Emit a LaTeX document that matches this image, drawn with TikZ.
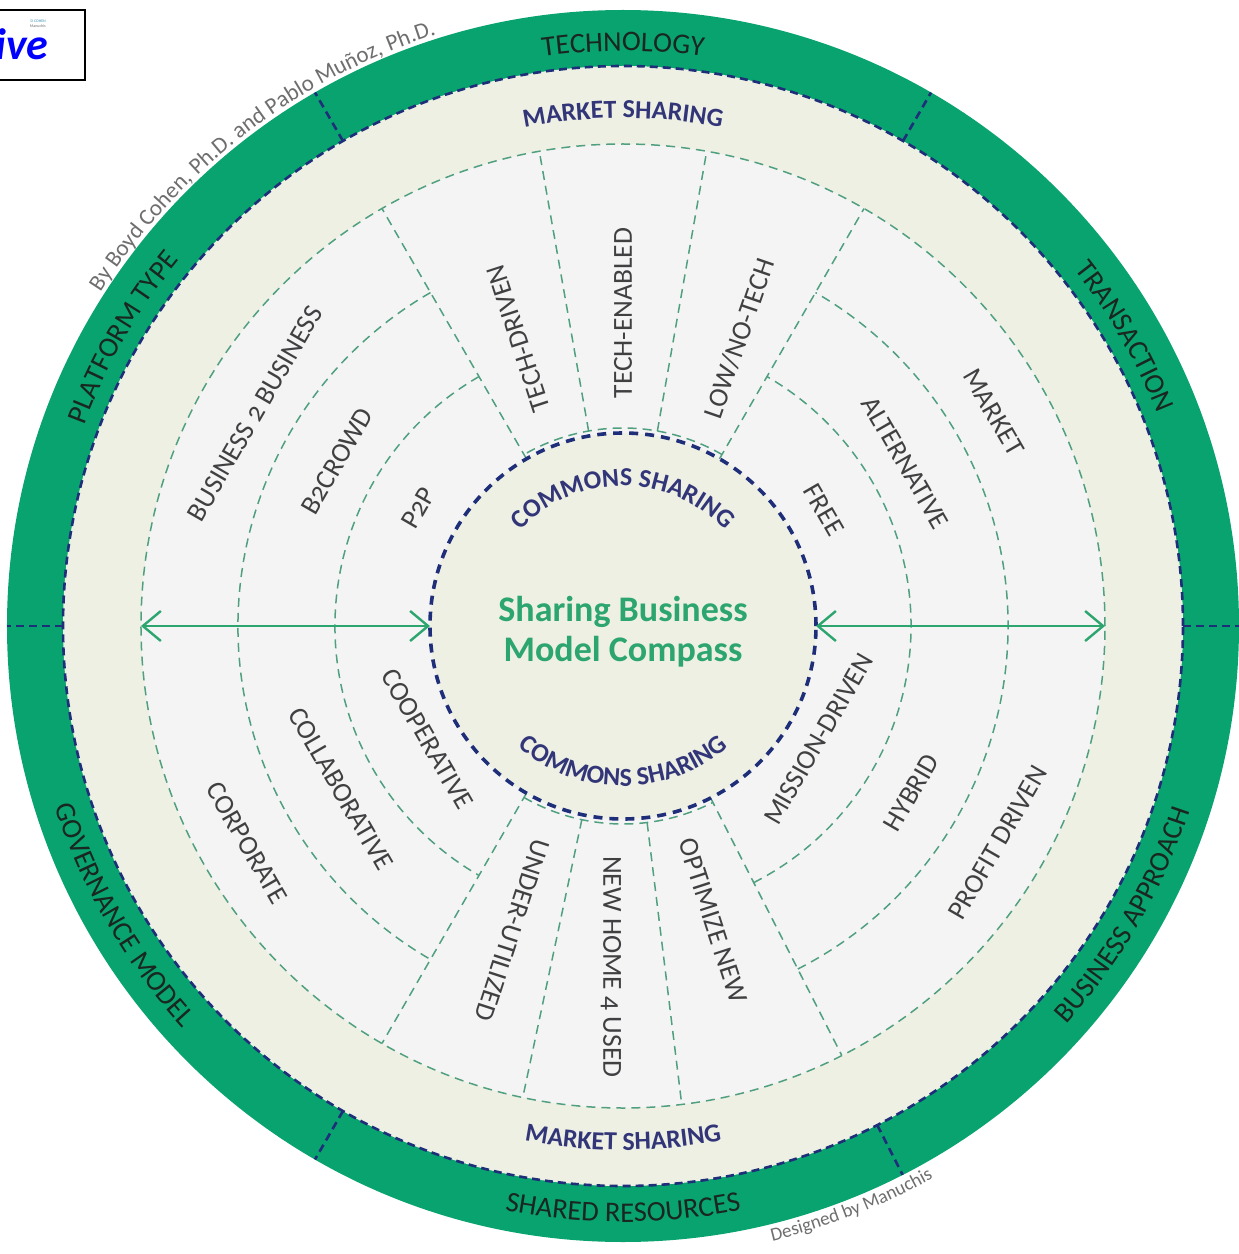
\documentclass[tikz,border=0pt]{standalone}
\usepackage{fontspec}
\setmainfont{Carlito}[Numbers=OldStyle]
\usetikzlibrary{arrows.meta,decorations.text}
\definecolor{ringgreen}{RGB}{8,163,110}
\definecolor{titlegreen}{RGB}{44,165,110}
\definecolor{dashgreen}{RGB}{80,160,128}
\definecolor{navy}{RGB}{30,46,120}
\definecolor{navytext}{RGB}{50,54,120}
\definecolor{beige}{RGB}{238,240,228}
\definecolor{paleg}{RGB}{244,244,245}
\definecolor{itemgray}{RGB}{64,64,66}
\definecolor{ringtext}{RGB}{26,38,32}
\definecolor{credit}{RGB}{110,110,112}
\newcommand\ringfont{\fontsize{28.5}{31}\selectfont}
\newcommand\sharefont{\fontsize{26}{28}\selectfont\bfseries}
\newcommand\commonsfont{\fontsize{26}{28}\selectfont\bfseries}
\newcommand\creditfont{\fontsize{23}{25}\selectfont}
\newcommand\designfont{\fontsize{19}{21}\selectfont}
\tikzset{
	greendash/.style={draw=dashgreen,line width=1.5pt,dash pattern=on 9pt off 6pt},
	navydash/.style={draw=navy,line width=2.6pt,dash pattern=on 8pt off 5pt},
	itemlabel/.style={text=itemgray,font=\fontsize{27.5}{30}\selectfont},
	spanarrow/.style={<->,titlegreen,line width=2.4pt},
	curvedlabel/.style 2 args={decorate,decoration={text along path,text align=center,text color=#1,text={#2}}}
}
\begin{document}
\begin{tikzpicture}[x=1pt,y=1pt,>={Straight Barb[length=18pt,width=30pt]}]
	\useasboundingbox (-623,-628) rectangle (616,626);
	\fill[white] (-623,-628) rectangle (616,626);
	\fill[ringgreen] (0,0) circle[radius=616];
	\fill[beige] (0,0) circle[radius=560];
	\fill[paleg] (0,0) circle[radius=482];
	\fill[beige] (0,0) circle[radius=193];
	\draw[greendash] (0,0) circle[radius=482];
	\foreach \r in {288,385}{
		\draw[greendash] (120:\r) arc[start angle=120,end angle=240,radius=\r];
		\draw[greendash] (-63:\r) arc[start angle=-63,end angle=60,radius=\r];
	}
	\draw[greendash] (60:198) arc[start angle=60,end angle=120,radius=198];
	\draw[greendash] (240:198) arc[start angle=240,end angle=297,radius=198];
	\foreach \a in {60,120,240,297}
		\draw[greendash] (\a:193)--(\a:482);
	\foreach \a in {80,100,258,277}
		\draw[greendash] (\a:198)--(\a:482);
	\draw[navydash] (0,0) circle[radius=560];
	\draw[navydash,line width=3.6pt,dash pattern=on 9pt off 7pt] (0,0) circle[radius=193];
	\foreach \a in {0,60,120,180,240,297}
		\draw[navydash] (\a:560)--(\a:616);
	\coordinate (lout) at (180:482);
	\coordinate (lin) at (180:193);
	\coordinate (rin) at (0:193);
	\coordinate (rout) at (0:482);
	\draw[spanarrow] (lout)--(lin);
	\draw[spanarrow] (rin)--(rout);
	\path[curvedlabel={ringtext}{|\ringfont|TECHNOLOGY}] (120:575) arc[start angle=120,end angle=60,radius=575];
	\path[curvedlabel={ringtext}{|\ringfont|TRANSACTION}] (60:575) arc[start angle=60,end angle=0,radius=575];
	\path[curvedlabel={ringtext}{|\ringfont|PLATFORM TYPE}] (180:575) arc[start angle=180,end angle=120,radius=575];
	\path[curvedlabel={ringtext}{|\ringfont|GOVERNANCE MODEL}] (180:596) arc[start angle=180,end angle=240,radius=596];
	\path[curvedlabel={ringtext}{|\ringfont|SHARED RESOURCES}] (240:596) arc[start angle=240,end angle=300,radius=596];
	\path[curvedlabel={ringtext}{|\ringfont|BUSINESS APPROACH}] (301:596) arc[start angle=301,end angle=359,radius=596];
	\path[curvedlabel={navytext}{|\sharefont|MARKET SHARING}] (130:508) arc[start angle=130,end angle=50,radius=508];
	\path[curvedlabel={navytext}{|\sharefont|MARKET SHARING}] (230:524) arc[start angle=230,end angle=310,radius=524];
	\path[curvedlabel={navytext}{|\commonsfont|COMMONS SHARING}] (170:140) arc[start angle=170,end angle=10,radius=140];
	\path[curvedlabel={navytext}{|\commonsfont|COMMONS SHARING}] (190:160) arc[start angle=190,end angle=350,radius=160];
	\path[curvedlabel={credit}{|\creditfont|By Boyd Cohen{,\kern6pt}Ph.D. and Pablo Muñoz{,\kern6pt}Ph.D.}] (165:620) arc[start angle=165,end angle=90,radius=620];
	\path[curvedlabel={credit}{|\designfont|Designed by Manuchis}] (-88:633) arc[start angle=-88,end angle=-49,radius=633];
	\foreach \a/\r/\t in {150/425/BUSINESS 2 BUSINESS,150/330/B2CROWD,150/236/P2P,330/433/PROFIT DRIVEN,330/333/HYBRID,330/226/MISSION-DRIVEN}
		\node[itemlabel,rotate=60] (item\a\r) at (\a:\r) {\t};
	\foreach \a/\r/\t in {30/428/MARKET,30/326/ALTERNATIVE,30/232/FREE,210/434/CORPORATE,210/326/COLLABORATIVE,210/226/COOPERATIVE}
		\node[itemlabel,rotate=-60] (item\a\r) at (\a:\r) {\t};
	\foreach \a/\r/\t/\w in {110/306/TECH-DRIVEN/108,90/313/TECH-ENABLED/90,68/310/{LOW/NO-TECH}/71,250/324/UNDER-UTILIZED/-108,268/341/NEW HOME 4 USED/-90,287/308/OPTIMIZE NEW/-72}
		\node[itemlabel,rotate=\w] (ray\a) at (\a:\r) {\t};
	\node[align=center,text=titlegreen,font=\fontsize{36}{40}\selectfont\bfseries] (title) at (0,-6) {Sharing Business\\Model Compass};
	\draw[line width=2pt] (-640,616) rectangle (-538,546);
	\node[anchor=base east,text=blue,font=\fontsize{44}{48}\selectfont\bfseries\itshape] (ive) at (-571,566) {ive};
	\node[anchor=east,inner sep=0pt,text=cyan!70!black,font=\fontsize{4}{5}\selectfont] (tinya) at (-577,605) {D COHEN};
	\node[anchor=east,inner sep=0pt,text=credit,font=\fontsize{4}{5}\selectfont] (tinyb) at (-577,600) {Manuchis};
\end{tikzpicture}
\end{document}
